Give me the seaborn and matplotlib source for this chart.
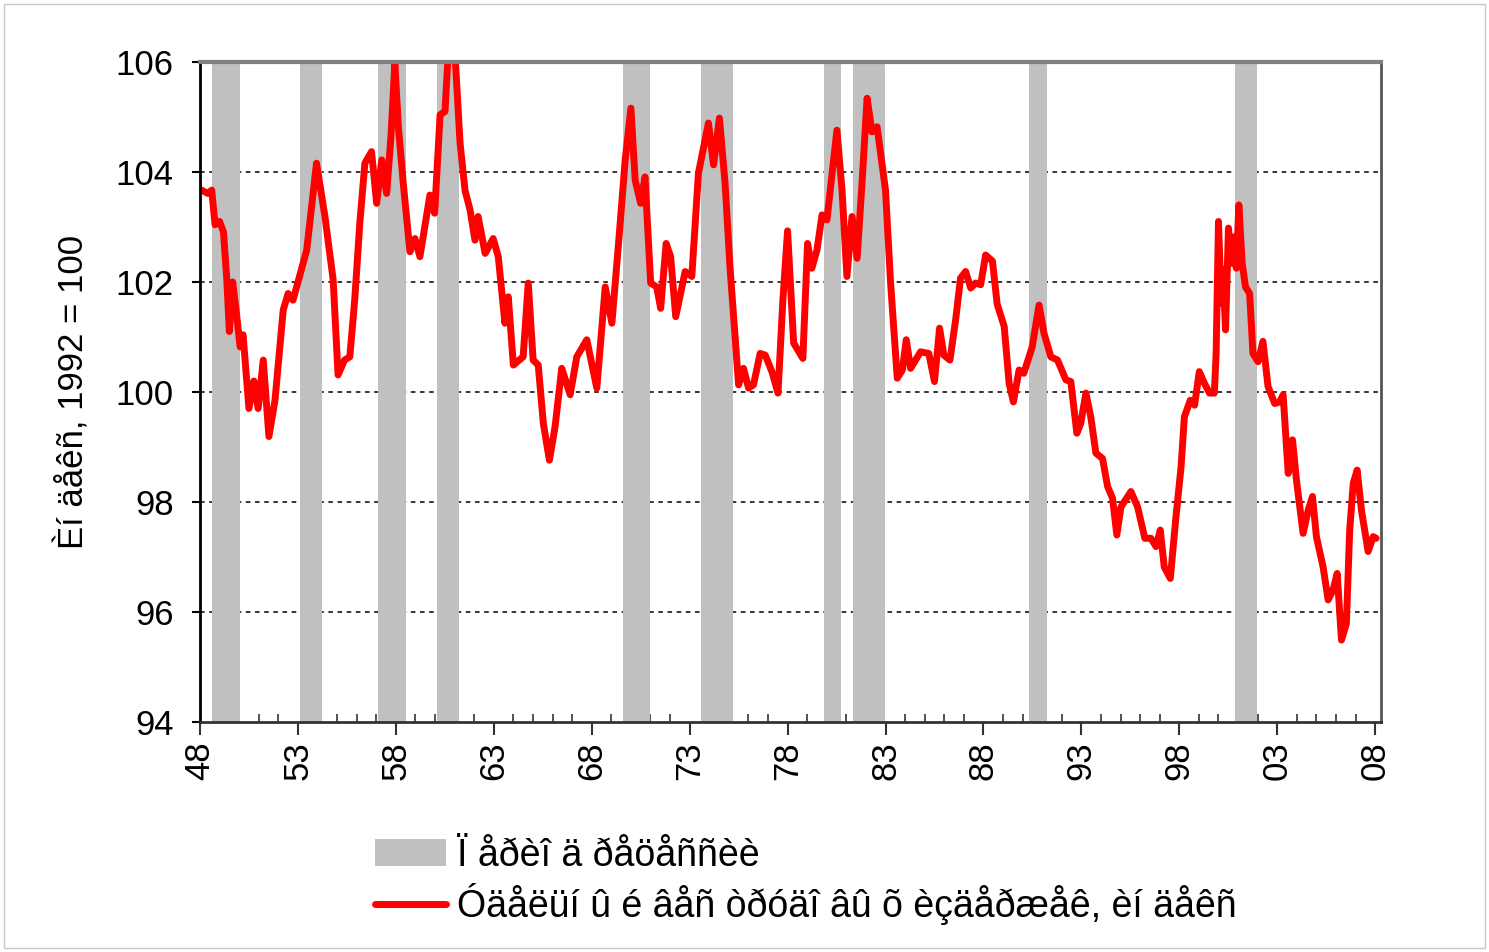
import matplotlib
matplotlib.use("Agg")
import matplotlib.pyplot as plt
import seaborn as sns
from matplotlib.patches import Patch, Rectangle
from matplotlib.lines import Line2D
from matplotlib.ticker import MultipleLocator

# Данные
years = [1948.08, 1948.40, 1948.60, 1948.77, 1949.00, 1949.20, 1949.37, 1949.50, 1949.67, 1949.88,
         1950.05, 1950.20, 1950.50, 1950.75, 1950.97, 1951.23, 1951.52, 1951.83, 1952.25, 1952.50,
         1952.75, 1953.08, 1953.45, 1953.95, 1954.38, 1954.80, 1955.05, 1955.38, 1955.65, 1955.90,
         1956.16, 1956.42, 1956.76, 1957.02, 1957.28, 1957.53, 1957.75, 1957.95, 1958.13, 1958.38,
         1958.72, 1958.98, 1959.23, 1959.74, 1959.98, 1960.26, 1960.51, 1960.68, 1961.02, 1961.28,
         1961.53, 1961.79, 1962.04, 1962.20, 1962.56, 1962.97, 1963.23, 1963.57, 1963.74, 1964.00,
         1964.50, 1964.76, 1965.01, 1965.27, 1965.53, 1965.84, 1966.13, 1966.47, 1966.90, 1967.24,
         1967.75, 1968.26, 1968.69, 1969.03, 1969.37, 1969.71, 1970.00, 1970.22, 1970.50, 1970.72,
         1971.01, 1971.32, 1971.52, 1971.80, 1972.03, 1972.29, 1972.77, 1973.11, 1973.45, 1973.96,
         1974.22, 1974.52, 1974.81, 1975.07, 1975.50, 1975.75, 1976.01, 1976.26, 1976.60, 1976.86,
         1977.20, 1977.51, 1977.76, 1978.00, 1978.31, 1978.78, 1979.02, 1979.24, 1979.50, 1979.76,
         1980.01, 1980.52, 1980.78, 1981.03, 1981.29, 1981.55, 1981.80, 1982.06, 1982.31, 1982.57,
         1983.00, 1983.26, 1983.60, 1983.86, 1984.06, 1984.28, 1984.79, 1985.21, 1985.50, 1985.76,
         1985.98, 1986.29, 1986.58, 1986.83, 1987.09, 1987.35, 1987.60, 1987.86, 1988.11, 1988.46,
         1988.70, 1989.06, 1989.31, 1989.53, 1989.82, 1990.06, 1990.49, 1990.84, 1991.09, 1991.44,
         1991.78, 1992.21, 1992.46, 1992.77, 1992.97, 1993.23, 1993.48, 1993.74, 1994.08, 1994.34,
         1994.59, 1994.81, 1995.02, 1995.53, 1995.87, 1996.24, 1996.55, 1996.81, 1997.03, 1997.23,
         1997.54, 1997.83, 1998.09, 1998.26, 1998.56, 1998.78, 1999.02, 1999.28, 1999.54, 1999.79,
         1999.88, 2000.00, 2000.14, 2000.22, 2000.36, 2000.51, 2000.65, 2000.77, 2000.91, 2001.04,
         2001.21, 2001.38, 2001.59, 2001.76, 2002.02, 2002.27, 2002.53, 2002.87, 2003.13, 2003.30,
         2003.56, 2003.78, 2003.98, 2004.32, 2004.58, 2004.80, 2005.00, 2005.34, 2005.60, 2005.85,
         2006.06, 2006.28, 2006.53, 2006.70, 2006.88, 2007.08, 2007.30, 2007.64, 2007.90, 2008.05]

index_vals = [103.67, 103.61, 103.67, 103.04, 103.10, 102.91, 102.04, 101.10, 102.00, 101.37,
              100.82, 101.04, 99.70, 100.20, 99.70, 100.58, 99.19, 99.85, 101.49, 101.79,
              101.67, 102.10, 102.58, 104.16, 103.19, 102.04, 100.31, 100.58, 100.64, 101.67,
              103.07, 104.16, 104.37, 103.43, 104.22, 103.61, 104.64, 105.97, 104.82, 103.79,
              102.55, 102.79, 102.46, 103.58, 103.25, 105.04, 105.10, 106.20, 106.15, 104.52,
              103.67, 103.31, 102.76, 103.19, 102.52, 102.79, 102.46, 101.25, 101.73, 100.49,
              100.64, 101.98, 100.58, 100.49, 99.43, 98.76, 99.37, 100.43, 99.95, 100.64,
              100.95, 100.07, 101.91, 101.25, 102.70, 104.22, 105.16, 103.85, 103.43, 103.91,
              101.98, 101.91, 101.52, 102.70, 102.46, 101.37, 102.19, 102.10, 103.98, 104.89,
              104.13, 104.98, 103.79, 102.22, 100.13, 100.43, 100.07, 100.13, 100.70, 100.67,
              100.37, 99.98, 101.67, 102.93, 100.89, 100.61, 102.70, 102.25, 102.58, 103.22,
              103.13, 104.76, 103.67, 102.10, 103.19, 102.43, 103.79, 105.34, 104.73, 104.82,
              103.67, 101.98, 100.25, 100.40, 100.95, 100.43, 100.73, 100.70, 100.19, 101.16,
              100.67, 100.58, 101.31, 102.07, 102.19, 101.89, 101.98, 101.95, 102.49, 102.38,
              101.60, 101.19, 100.16, 99.82, 100.40, 100.34, 100.82, 101.58, 101.07, 100.64,
              100.58, 100.22, 100.19, 99.25, 99.43, 99.98, 99.55, 98.89, 98.79, 98.28,
              98.07, 97.40, 97.91, 98.19, 97.91, 97.34, 97.34, 97.19, 97.49, 96.82,
              96.61, 97.73, 98.64, 99.55, 99.85, 99.76, 100.37, 100.16, 99.98, 99.98,
              100.70, 103.10, 101.61, 102.22, 101.13, 102.98, 102.34, 102.82, 102.25, 103.40,
              102.34, 101.91, 101.79, 100.70, 100.55, 100.92, 100.10, 99.79, 99.82, 99.95,
              98.52, 99.13, 98.40, 97.43, 97.85, 98.10, 97.37, 96.82, 96.22, 96.40,
              96.70, 95.49, 95.79, 97.49, 98.34, 98.58, 97.85, 97.10, 97.37, 97.34]

# Периоды рецессии (начало, конец)
rec_start = [1948.61, 1953.11, 1957.09, 1960.10, 1969.60, 1973.59, 1979.87, 1981.35, 1990.34, 2000.86]
rec_end = [1950.04, 1954.23, 1958.52, 1961.23, 1970.98, 1975.22, 1980.74, 1982.98, 1991.26, 2001.98]

tick_years = list(range(1948, 2009, 5))
tick_labels = [str(y)[2:] for y in tick_years]

ylabel = "Èí äåêñ, 1992 = 100"
label_rec = "Ï åðèî ä ðåöåññèè"
label_line = "Óäåëüí û é âåñ òðóäî âû õ èçäåðæåê, èí äåêñ"

sns.set_style("white")
plt.rcParams['font.family'] = ['Liberation Sans', 'DejaVu Sans']
plt.rcParams['text.color'] = 'black'
plt.rcParams['axes.labelcolor'] = 'black'
plt.rcParams['xtick.color'] = 'black'
plt.rcParams['ytick.color'] = 'black'

fig = plt.figure(figsize=(14.89, 9.52), dpi=100)
ax = fig.add_axes([0.1343, 0.2416, 0.7932, 0.6933])

# полосы рецессий
for s, e in zip(rec_start, rec_end):
    ax.axvspan(s, e, color="#c0c0c0", lw=0, zorder=1)

# сетка
for v in [96, 98, 100, 102, 104]:
    ax.axhline(v, color="black", lw=1.1, ls=(0, (3, 3)), zorder=0.5)

sns.lineplot(x=years, y=index_vals, ax=ax, color="#ff0000", lw=5, zorder=3)

ax.set_xlim(1948, 2008.3)
ax.set_ylim(94, 106)
ax.set_yticks([94, 96, 98, 100, 102, 104, 106])
ax.set_xticks(tick_years)
ax.set_xticklabels(tick_labels, rotation=90)
ax.xaxis.set_minor_locator(MultipleLocator(1))

ax.tick_params(axis="y", which="major", direction="out", length=6, width=1.5, pad=13,
               labelsize=25, left=True, color="black")
ax.tick_params(axis="x", which="major", direction="out", length=9, width=1.5, pad=5,
               labelsize=25, bottom=True, color="#333333")
ax.tick_params(axis="x", which="minor", direction="in", length=6, width=1.2,
               bottom=True, color="#333333")

ax.set_ylabel(ylabel, fontsize=25)
ax.yaxis.set_label_coords(-0.093, 0.5)
ax.set_xlabel("")

ax.spines["left"].set_color("black")
ax.spines["left"].set_linewidth(2)
ax.spines["bottom"].set_color("#333333")
ax.spines["bottom"].set_linewidth(2)
ax.spines["top"].set_color("#808080")
ax.spines["top"].set_linewidth(3)
ax.spines["right"].set_color("#555555")
ax.spines["right"].set_linewidth(2)
for sp in ax.spines.values():
    sp.set_zorder(4)

handles = [Patch(facecolor="#c0c0c0", edgecolor="none"),
           Line2D([0], [0], color="#ff0000", lw=5)]
fig.legend(handles, [label_rec, label_line], loc="upper left",
           bbox_to_anchor=(0.2416, 0.136), bbox_transform=fig.transFigure,
           frameon=False, fontsize=27, handlelength=1.9, handleheight=0.7,
           handletextpad=0.3, labelspacing=0.25, borderaxespad=0)

# рамка вокруг рисунка
fig.add_artist(Rectangle((0.003, 0.004), 0.994, 0.992, transform=fig.transFigure,
                         fill=False, edgecolor="#c8c8c8", lw=1))

fig.savefig("out.png", dpi=100)
